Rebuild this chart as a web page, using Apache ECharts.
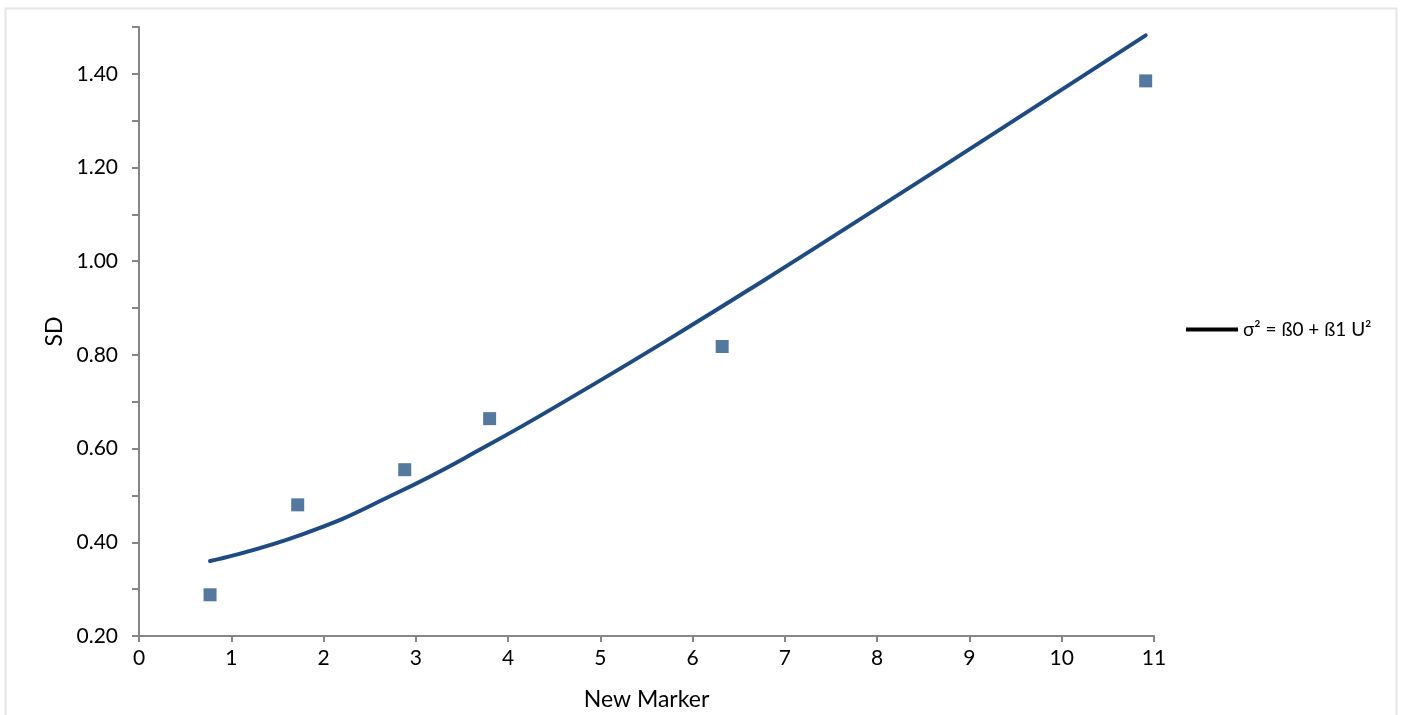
<!DOCTYPE html>
<html><head><meta charset="utf-8">
<script src="https://cdn.jsdelivr.net/npm/echarts@6/dist/echarts.min.js"></script>
<style>html,body{margin:0;padding:0;background:#fff}#c{width:1404px;height:715px}</style>
</head><body><div id="c"></div>
<script>
const seriesName = 'σ² = ß0 + ß1 U²';
const markerX = [0.77, 1.72, 2.88, 3.80, 6.32, 10.91];
const sdValues = [0.288, 0.480, 0.555, 0.664, 0.818, 1.385];
const curveX = [0.77, 1.77, 2.77, 3.77, 4.77, 5.77, 6.77, 7.77, 8.77, 9.77, 10.91];
const curveY = [0.360, 0.417, 0.503, 0.606, 0.719, 0.837, 0.959, 1.084, 1.210, 1.337, 1.482];

const chart = echarts.init(document.getElementById('c'));
const font = 'Lato, "Open Sans", sans-serif';
const axisColor = '#868686';
chart.setOption({
  animation: false,
  textStyle: {fontFamily: font},
  graphic: [{type: 'rect', shape: {x: 5.5, y: 8.5, width: 1391, height: 720}, style: {fill: 'none', stroke: '#e6e6e6', lineWidth: 2}, silent: true}],
  grid: {left: 139, right: 250, top: 27, bottom: 79, outerBoundsMode: 'none', containLabel: false},
  legend: {
    left: 1186, top: 320, itemWidth: 52, itemHeight: 4, padding: 0,
    textStyle: {fontSize: 19, color: '#000', fontFamily: font},
    data: [{name: seriesName, icon: 'rect', itemStyle: {color: '#000'}}]
  },
  xAxis: {
    type: 'value', min: 0, max: 11, interval: 1,
    name: 'New Marker', nameLocation: 'middle', nameGap: 52,
    nameTextStyle: {fontSize: 23, color: '#000'},
    splitLine: {show: false},
    axisLine: {lineStyle: {color: axisColor, width: 2}},
    axisTick: {length: 6, lineStyle: {color: axisColor, width: 2}},
    axisLabel: {fontSize: 21, color: '#000', margin: 12}
  },
  yAxis: {
    type: 'value', min: 0.2, max: 1.5, interval: 0.1,
    name: 'SD', nameLocation: 'middle', nameGap: 72, nameRotate: 90,
    nameTextStyle: {fontSize: 23, color: '#000'},
    splitLine: {show: false},
    axisLine: {show: true, lineStyle: {color: axisColor, width: 2}},
    axisTick: {show: true, length: 7, lineStyle: {color: axisColor, width: 2}},
    axisLabel: {fontSize: 21, color: '#000', margin: 21,
      formatter: v => (Math.round(v * 10) % 2 === 0 && v < 1.45) ? v.toFixed(2) : ''}
  },
  series: [
    {name: 'SD', type: 'scatter', symbol: 'rect', symbolSize: 13,
     itemStyle: {color: '#55789f', opacity: 1}, data: markerX.map((x, i) => [x, sdValues[i]]), z: 3},
    {name: seriesName, type: 'line', smooth: true, showSymbol: false,
     lineStyle: {color: '#1f4b82', width: 4, cap: 'round'}, itemStyle: {color: '#1f4b82'},
     data: curveX.map((x, i) => [x, curveY[i]]), z: 2}
  ]
});
</script></body></html>
